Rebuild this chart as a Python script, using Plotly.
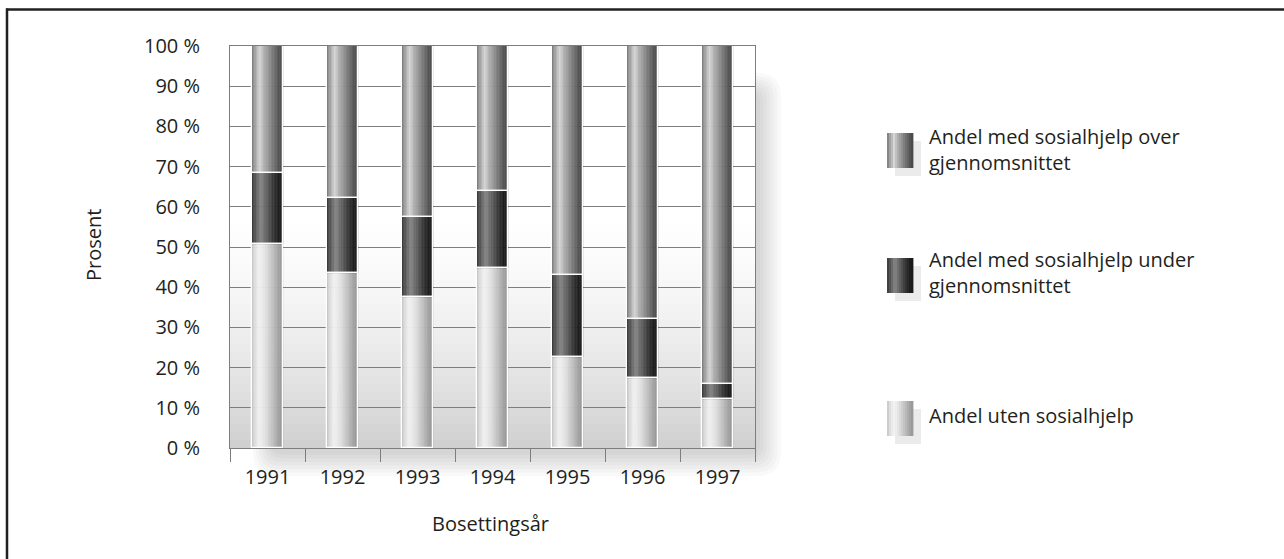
import plotly.graph_objects as go

# Share of settled refugees by year of settlement (percent)
years = ["1991", "1992", "1993", "1994", "1995", "1996", "1997"]
uten = [50.8, 43.6, 37.6, 44.7, 22.6, 17.5, 12.1]          # no social assistance
under = [17.5, 18.7, 19.9, 19.2, 20.4, 14.5, 3.7]          # assistance below average
over = [31.7, 37.7, 42.5, 36.1, 57.0, 68.0, 84.2]          # assistance above average

legend_labels = [
    "Andel med sosialhjelp over<br>gjennomsnittet",
    "Andel med sosialhjelp under<br>gjennomsnittet",
    "Andel uten sosialhjelp",
]
y_tickvals = [0, 10, 20, 30, 40, 50, 60, 70, 80, 90, 100]
y_ticktext = [f"{v} %" for v in y_tickvals]

FONT = "Open Sans"
FS = 20
TXT = "#231f20"
W, H = 1284, 559
L, R, T, B = 230, 755, 46, 448  # plot area in pixels


def px(x):
    return (x - L) / (R - L)


def py(y):
    return (B - y) / (B - T)


# cylinder-like shading profiles across a bar: (position, grey level)
profiles = {
    "over": [(0, 120), (0.08, 150), (0.27, 215), (0.4, 178), (0.65, 128), (0.88, 85), (1, 70)],
    "under": [(0, 55), (0.1, 80), (0.3, 135), (0.45, 105), (0.7, 55), (0.9, 28), (1, 25)],
    "uten": [(0, 195), (0.1, 220), (0.25, 242), (0.4, 232), (0.7, 190), (0.9, 160), (1, 150)],
}


def shade(profile, t):
    for (t0, g0), (t1, g1) in zip(profile, profile[1:]):
        if t0 <= t <= t1:
            g = int(round(g0 + (g1 - g0) * (t - t0) / (t1 - t0)))
            return f"rgb({g},{g},{g})"
    g = profile[-1][1]
    return f"rgb({g},{g},{g})"


fig = go.Figure()

BAR_W = 0.41
N = 20
strip = BAR_W / N

bases_uten = [0] * len(years)
bases_under = list(uten)
bases_over = [a + b for a, b in zip(uten, under)]

stack = [
    ("uten", uten, bases_uten),
    ("under", under, bases_under),
    ("over", over, bases_over),
]

for key, vals, bases in stack:
    for i in range(N):
        c = shade(profiles[key], (i + 0.5) / N)
        fig.add_trace(go.Bar(
            x=years, y=vals, base=bases,
            width=strip, offset=-BAR_W / 2 + i * strip,
            marker=dict(color=c, line=dict(color=c, width=0.6)),
            showlegend=False, hoverinfo="skip",
        ))

# white outline around every segment
for key, vals, bases in stack:
    fig.add_trace(go.Bar(
        x=years, y=vals, base=bases,
        width=BAR_W, offset=-BAR_W / 2,
        marker=dict(color="rgba(0,0,0,0)", line=dict(color="white", width=1.3)),
        showlegend=False, hoverinfo="skip",
    ))

shapes = []

# soft drop shadow behind the plot area
for j in range(7):
    x0, x1 = px(253 + j * 3), px(781 - j * 3.5)
    y0, y1 = py(73 + j * 3), py(476 - j * 3.5)
    r = 24 - j * 2
    rx = r / (R - L)
    ry = r / (B - T)
    path = (f"M {x0 + rx},{y0} L {x1 - rx},{y0} Q {x1},{y0} {x1},{y0 - ry} "
            f"L {x1},{y1 + ry} Q {x1},{y1} {x1 - rx},{y1} "
            f"L {x0 + rx},{y1} Q {x0},{y1} {x0},{y1 + ry} "
            f"L {x0},{y0 - ry} Q {x0},{y0} {x0 + rx},{y0} Z")
    shapes.append(dict(type="path", path=path, xref="paper", yref="paper",
                       fillcolor="rgba(0,0,0,0.022)", line=dict(width=0), layer="below"))

# plot background: white at top, fading to grey towards the base
shapes.append(dict(type="rect", xref="paper", yref="paper", x0=0, x1=1, y0=0, y1=1,
                   fillcolor="white", line=dict(width=0), layer="below"))
NB = 50
for k in range(NB):
    f0 = k / NB
    f1 = (k + 1) / NB
    fm = (f0 + f1) / 2
    if fm > 0.6:
        continue
    s = (0.6 - fm) / 0.6
    g = int(round(255 - 48 * s ** 1.6))
    shapes.append(dict(type="rect", xref="paper", yref="paper", x0=0, x1=1, y0=f0, y1=f1 + 0.002,
                       fillcolor=f"rgb({g},{g},{g})", line=dict(width=0), layer="below"))

# outer frame (top and left edges)
shapes.append(dict(type="line", xref="paper", yref="paper",
                   x0=px(6), x1=px(1290), y0=py(9.5), y1=py(9.5),
                   line=dict(color=TXT, width=2.5), layer="above"))
shapes.append(dict(type="line", xref="paper", yref="paper",
                   x0=px(7), x1=px(7), y0=py(8.5), y1=py(565),
                   line=dict(color=TXT, width=2.5), layer="above"))

# legend swatches with shading and offset shadow
legend_keys = ["over", "under", "uten"]
legend_tops = [133, 258, 401]
SW_X0, SW_W, SW_H = 887, 26, 35
for key, top in zip(legend_keys, legend_tops):
    shapes.append(dict(type="rect", xref="paper", yref="paper",
                       x0=px(SW_X0 + 8), x1=px(SW_X0 + 8 + SW_W),
                       y0=py(top + 8 + SW_H), y1=py(top + 8),
                       fillcolor="#ebebeb", line=dict(width=0), layer="above"))
    NS = 13
    for i in range(NS):
        c = shade(profiles[key], (i + 0.5) / NS)
        shapes.append(dict(type="rect", xref="paper", yref="paper",
                           x0=px(SW_X0 + i * SW_W / NS), x1=px(SW_X0 + (i + 1) * SW_W / NS + 0.4),
                           y0=py(top + SW_H), y1=py(top),
                           fillcolor=c, line=dict(width=0), layer="above"))

annotations = []
legend_centres = [149, 272.5, 415.5]
for text, yc in zip(legend_labels, legend_centres):
    annotations.append(dict(text=text, xref="paper", yref="paper", x=px(927), y=py(yc),
                            xanchor="left", yanchor="middle", align="left", showarrow=False,
                            font=dict(family=FONT, size=FS, color=TXT)))

annotations.append(dict(text="Prosent", xref="paper", yref="paper", x=px(93), y=py(245),
                        xanchor="center", yanchor="middle", textangle=-90, showarrow=False,
                        font=dict(family=FONT, size=FS, color=TXT)))
annotations.append(dict(text="Bosettingsår", xref="paper", yref="paper", x=px(490), y=py(523),
                        xanchor="center", yanchor="middle", showarrow=False,
                        font=dict(family=FONT, size=FS, color=TXT)))

GRID = "#7d7d7d"
fig.update_layout(
    width=W, height=H,
    margin=dict(l=L, r=W - R, t=T, b=H - B),
    paper_bgcolor="white", plot_bgcolor="rgba(0,0,0,0)",
    barmode="overlay", bargap=0,
    font=dict(family=FONT, size=FS, color=TXT),
    shapes=shapes, annotations=annotations,
    showlegend=False,
    xaxis=dict(type="category", categoryorder="array", categoryarray=years,
               range=[-0.5, len(years) - 0.5],
               showgrid=False, showline=True, mirror=True, linecolor=GRID, linewidth=1,
               ticks="outside", tickson="boundaries", ticklen=13, tickcolor=GRID, tickwidth=1,
               ticklabelstandoff=11, tickfont=dict(family=FONT, size=FS, color=TXT)),
    yaxis=dict(range=[0, 100], tickvals=y_tickvals, ticktext=y_ticktext,
               showgrid=True, gridcolor=GRID, gridwidth=1, zeroline=False,
               showline=True, mirror=True, linecolor=GRID, linewidth=1,
               ticks="", ticklabelstandoff=25, tickfont=dict(family=FONT, size=FS, color=TXT)),
)

fig.write_html("out.html")
